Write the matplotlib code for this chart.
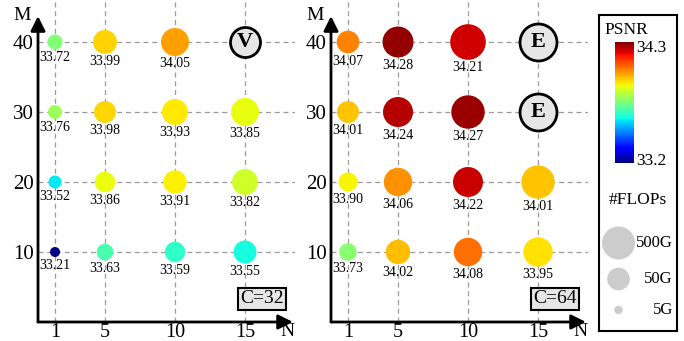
import numpy as np
import matplotlib
matplotlib.use('Agg')
import matplotlib.pyplot as plt
from matplotlib.colors import Normalize, FuncNorm
from matplotlib.colorbar import ColorbarBase

plt.rcParams['font.family'] = 'Liberation Serif'

N_vals = [1, 5, 10, 15]
M_vals = [10, 20, 30, 40]

# PSNR (dB): rows follow M_vals, columns follow N_vals; nan = no result
psnr_c32 = [[33.21, 33.63, 33.59, 33.55],
            [33.52, 33.86, 33.91, 33.82],
            [33.76, 33.98, 33.93, 33.85],
            [33.72, 33.99, 34.05, np.nan]]
psnr_c64 = [[33.73, 34.02, 34.08, 33.95],
            [33.90, 34.06, 34.22, 34.01],
            [34.01, 34.24, 34.27, np.nan],
            [34.07, 34.28, 34.21, np.nan]]

# approximate cost in GFLOPs, same layout
flops_c32 = [[6.5, 19, 35, 55],
             [10.5, 36, 60, 106],
             [12.4, 45, 106, 165],
             [14.6, 68, 165, np.nan]]
flops_c64 = [[22, 74, 181, 225],
             [28, 181, 258, 546],
             [45, 258, 546, np.nan],
             [50, 320, 890, np.nan]]

# settings that could not be run: (N, M, letter)
fail_c32 = [(15, 40, 'V')]
fail_c64 = [(15, 40, 'E'), (15, 30, 'E')]

flops_legend = [500, 50, 5]
flops_legend_labels = ['500G', '50G', '5G']

psnr_min, psnr_max = 33.2, 34.3

W, H, DPI = 684, 341, 100
PT = 72.0 / DPI  # points per pixel

# colour stops: PSNR value -> position on the jet scale
stop_psnr = [33.2, 33.5, 33.75, 33.85, 34.0, 34.05, 34.08, 34.2, 34.3]
stop_pos = [0.0, 0.34, 0.53, 0.63, 0.69, 0.74, 0.79, 0.92, 1.0]
norm = FuncNorm((lambda v: np.interp(v, stop_psnr, stop_pos),
                 lambda t: np.interp(t, stop_pos, stop_psnr)),
                vmin=psnr_min, vmax=psnr_max)
cmap = plt.get_cmap('jet')


def radius_px(f):
    f = np.asarray(f, dtype=float)
    return np.interp(np.log10(f), np.log10([5, 50, 500, 5000]), [4.2, 11.3, 16.5, 21.7])


def marker_area(r):
    return (2 * r * PT) ** 2


def fig_xy(x, y):
    return x / W, 1 - y / H


fig = plt.figure(figsize=(W / DPI, H / DPI), dpi=DPI)

# column positions (N=1 sits closer to N=5 than an even grid)
xpos = [1 - 50 / 70, 1, 2, 3]
axis_left = [38, 331]


def draw_panel(x0, psnr, flops, fails, tag):
    ax = fig.add_axes([x0 / W, 19 / H, 257 / W, 322 / H])
    ax.set_xlim(1 - 67 / 70, 3 + 50 / 70)
    ax.set_ylim(0, 46)
    for s in ax.spines.values():
        s.set_visible(False)
    ax.set_xticks(xpos)
    ax.set_xticklabels([str(n) for n in N_vals], fontsize=14.5)
    ax.set_yticks(M_vals)
    ax.set_yticklabels([str(m) for m in M_vals], fontsize=15)
    ax.tick_params(length=0, pad=3)
    ax.tick_params(axis='x', pad=1)
    ax.grid(True, ls=(0, (4, 3)), color='#9a9a9a', lw=0.9)
    ax.set_axisbelow(True)

    # axis arrows
    arrow = dict(arrowstyle='-|>', color='k', lw=2, mutation_scale=22,
                 shrinkA=0, shrinkB=0)
    ax.annotate('', xy=(0.992, 0), xytext=(0, 0), xycoords='axes fraction',
                arrowprops=arrow, annotation_clip=False)
    ax.annotate('', xy=(0, 0.95), xytext=(0, 0), xycoords='axes fraction',
                arrowprops=arrow, annotation_clip=False)

    P = np.array(psnr, dtype=float)
    F = np.array(flops, dtype=float)
    for i, m in enumerate(M_vals):
        for j, n in enumerate(N_vals):
            if np.isnan(P[i, j]):
                continue
            r = float(radius_px(F[i, j]))
            ax.scatter(xpos[j], m, s=marker_area(r), color=cmap(norm(P[i, j])),
                       edgecolors='none', zorder=3)
            ax.annotate(f'{P[i, j]:.2f}', (xpos[j], m), textcoords='offset points',
                        xytext=(0, -(r + 8) * PT), ha='center', va='center',
                        fontsize=10, zorder=4)

    for n, m, letter in fails:
        r = 15 if letter == 'V' else 18.5
        j = N_vals.index(n)
        ax.scatter(xpos[j], m, s=marker_area(r), facecolor='#e6e6e6',
                   edgecolors='k', linewidths=2, zorder=3)
        ax.text(xpos[j], m, letter, ha='center', va='center', fontsize=16,
                fontweight='bold', zorder=4)

    ax.text(0.872, 0.072, tag, transform=ax.transAxes, ha='center', va='center',
            fontsize=14, bbox=dict(boxstyle='square,pad=0.12', fc='#e6e6e6',
                                   ec='k', lw=1.5))

    fig.text(*fig_xy(x0 - 16, 15), 'M', ha='center', va='center', fontsize=14)
    fig.text(*fig_xy(x0 + 249, 332), 'N', ha='center', va='center', fontsize=14)
    return ax


draw_panel(axis_left[0], psnr_c32, flops_c32, fail_c32, 'C=32')
draw_panel(axis_left[1], psnr_c64, flops_c64, fail_c64, 'C=64')

# legend box on the right, laid out in pixel units
lax = fig.add_axes([599 / W, (H - 331) / H, 78 / W, 316 / H])
lax.set_xlim(599, 677)
lax.set_ylim(331, 15)
lax.set_xticks([])
lax.set_yticks([])
for s in lax.spines.values():
    s.set_linewidth(1.5)

cax = fig.add_axes([615 / W, (H - 163) / H, 19 / W, 121 / H])
cb = ColorbarBase(cax, cmap=cmap, norm=Normalize(psnr_min, psnr_max))
cb.set_ticks([])
cb.outline.set_visible(False)

lax.text(604, 30, 'PSNR', ha='left', va='center', fontsize=12.5)
lax.text(636, 48, f'{psnr_max:.1f}', ha='left', va='center', fontsize=12.5)
lax.text(636, 161, f'{psnr_min:.1f}', ha='left', va='center', fontsize=12.5)
lax.text(638, 200, '#FLOPs', ha='center', va='center', fontsize=12.5)

legend_y = [243, 279, 310]
for f, lab, y in zip(flops_legend, flops_legend_labels, legend_y):
    lax.scatter(618.5, y, s=marker_area(float(radius_px(f))), color='#cccccc',
                edgecolors='none', clip_on=False)
    lax.text(673, y, lab, ha='right', va='center', fontsize=12)

fig.savefig('out.png', dpi=DPI)
